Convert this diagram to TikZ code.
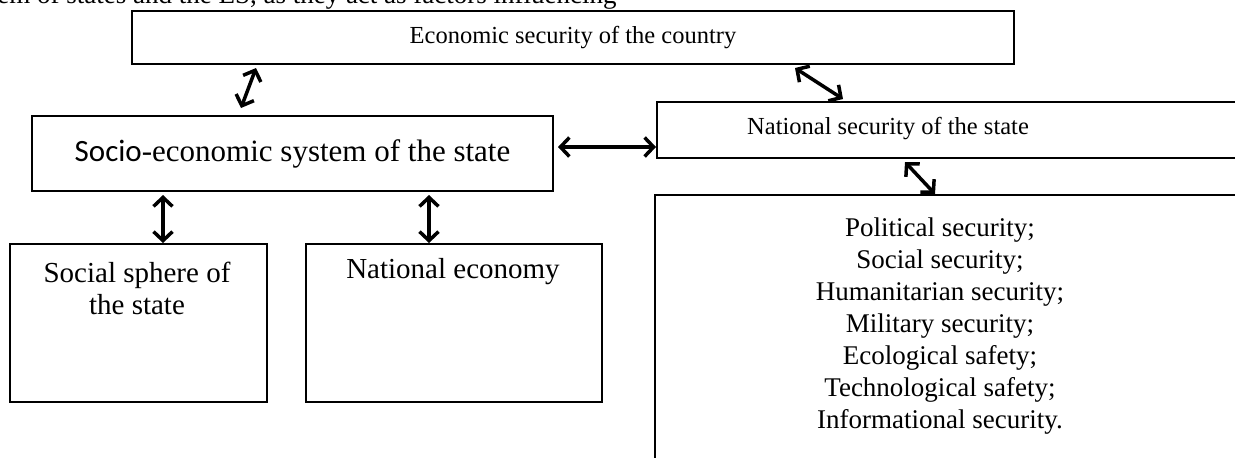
\documentclass[tikz,border=0pt]{standalone}
\usepackage{fontspec}
\setmainfont{Liberation Serif}
\newfontfamily\calibrifont{Carlito}
\usetikzlibrary{arrows,arrows.meta}
\tikzset{
  frame/.style = {rectangle, draw=black, line width=1pt, inner sep=0pt,
    anchor=north west},% plain box, text put on top of it
  caption/.style = {align=center, inner sep=0pt, text centered},
  capsmall/.style = {caption, font=\fontsize{12.25}{14}\selectfont},
  capmid/.style = {caption, font=\fontsize{13.5}{16}\selectfont},
  capbig/.style = {caption, font=\fontsize{14.5}{16}\selectfont},
  biarrow/.style = {{Straight Barb[length=4.5pt,width=9.5pt]}-{Straight Barb[length=4.5pt,width=9.5pt]},
    line width=1.75pt}
}

\begin{document}
\begin{tikzpicture}[x=0.5pt, y=-0.5pt]
  \useasboundingbox (0,0) rectangle (1235,457);
  \clip (0,0) rectangle (1235,457);
  % cut line of the text above
  \node [capmid, anchor=base east] (intro) at (617,3)
    {system of states and the ES, as they act as factors influencing};
  % boxes
  \node [frame, minimum width=441pt, minimum height=26.5pt] (econ) at (131,10)
    {\fontsize{12.25}{14}\selectfont Economic security of the country};
  \node [frame, minimum width=260.5pt, minimum height=37.5pt] (socio) at (31,115)
    {\fontsize{15.5}{17}\selectfont{\calibrifont Socio}-economic system of the state};
  \node [frame, minimum width=297pt, minimum height=28pt] (natl) at (656,101) {};
  \node [capsmall] (natltxt) at (888,129) {National security of the state};
  \node [frame, minimum width=298pt, minimum height=140pt] (kinds) at (654,194) {};
  \node [capmid] (kindstxt) at (940,326)
    {Political security;\\ Social security;\\ Humanitarian security;\\
     Military security;\\ Ecological safety;\\ Technological safety;\\
     Informational security.};
  \node [frame, minimum width=128.5pt, minimum height=79pt] (social) at (9,243) {};
  \node [capbig] (socialtxt) at (137,288) {Social sphere of\\ the state};
  \node [frame, minimum width=148pt, minimum height=79pt] (economy) at (305,243) {};
  \node [capbig] (economytxt) at (453,272) {National economy};
  % links
  \draw [biarrow] ([xshift=62.5pt,yshift=-1.5pt]econ.south west)
    -- ([xshift=105pt,yshift=3.5pt]socio.north west);
  \draw [biarrow] ([xshift=332pt,yshift=-1.5pt]econ.south west)
    -- ([xshift=93.5pt,yshift=1pt]natl.north west);
  \draw [biarrow] ([xshift=2pt,yshift=3.25pt]socio.east)
    -- ([yshift=-8.5pt]natl.west);
  \draw [biarrow] ([xshift=124.5pt,yshift=-1.5pt]natl.south west)
    -- ([xshift=140.5pt]kinds.north west);
  \draw [biarrow] ([xshift=66pt,yshift=-1.5pt]socio.south west)
    -- ([xshift=77pt]social.north west);
  \draw [biarrow] ([xshift=199pt,yshift=-1.5pt]socio.south west)
    -- ([xshift=62pt]economy.north west);
\end{tikzpicture}
\end{document}
